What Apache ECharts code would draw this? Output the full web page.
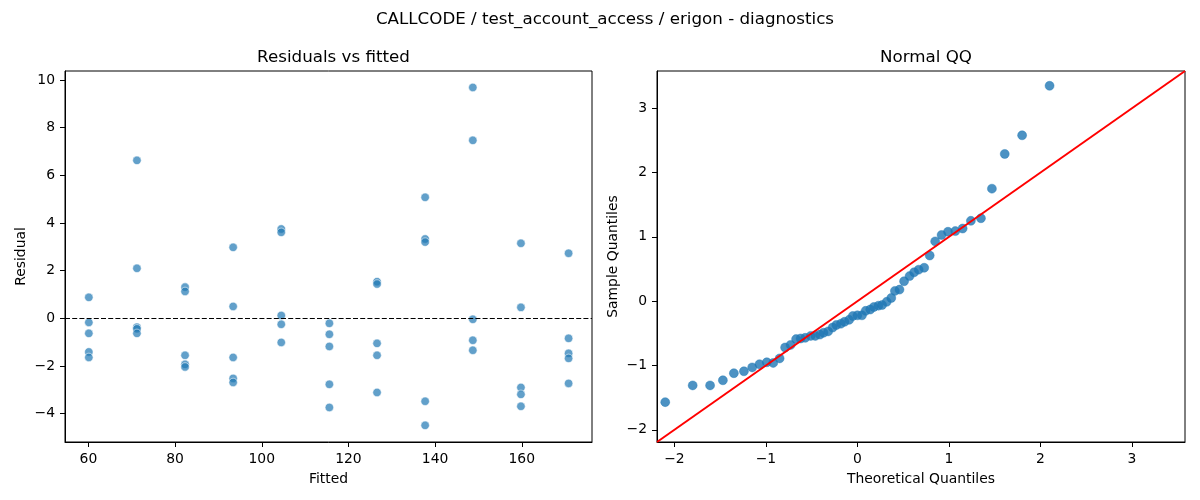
<!DOCTYPE html>
<html>
<head>
<meta charset="utf-8">
<script src="https://cdn.jsdelivr.net/npm/echarts@6/dist/echarts.min.js"></script>
<style>
html,body{margin:0;padding:0;background:#fff;}
#chart{width:1200px;height:500px;}
</style>
</head>
<body>
<div id="chart"></div>
<script>
// ---------- data ----------
const fittedLevels = [60.1, 71.2, 82.3, 93.4, 104.5, 115.6, 126.6, 137.7, 148.7, 159.8, 170.8];
const residualsByLevel = [
  [0.88, -0.17, -0.63, -1.41, -1.64],
  [6.63, 2.10, -0.37, -0.44, -0.63],
  [1.31, 1.13, -1.55, -1.93, -2.04],
  [2.98, 0.50, -1.64, -2.52, -2.69],
  [3.75, 3.61, 0.12, -0.25, -1.01],
  [-0.21, -0.67, -1.18, -2.77, -3.74],
  [1.54, 1.44, -1.05, -1.55, -3.11],
  [5.08, 3.33, 3.20, -3.48, -4.49],
  [9.69, 7.47, -0.04, -0.92, -1.34],
  [3.15, 0.46, -2.90, -3.19, -3.69],
  [2.73, -0.84, -1.47, -1.68, -2.73]
];
const theoreticalQ = [
  -2.10, -1.80, -1.61, -1.47, -1.35, -1.24, -1.15, -1.07, -0.99, -0.92,
  -0.85, -0.79, -0.73, -0.67, -0.62, -0.57, -0.51, -0.46, -0.41, -0.37,
  -0.32, -0.27, -0.23, -0.18, -0.14, -0.09, -0.05, 0.00, 0.05, 0.09,
  0.14, 0.18, 0.23, 0.27, 0.32, 0.37, 0.41, 0.46, 0.51, 0.57,
  0.62, 0.67, 0.73, 0.79, 0.85, 0.92, 0.99, 1.07, 1.15, 1.24,
  1.35, 1.47, 1.61, 1.80, 2.10
];
const sampleQ = [
  -1.57, -1.31, -1.31, -1.23, -1.12, -1.09, -1.03, -0.98, -0.95, -0.96,
  -0.89, -0.72, -0.68, -0.59, -0.58, -0.57, -0.54, -0.54, -0.52, -0.49,
  -0.47, -0.41, -0.37, -0.35, -0.32, -0.29, -0.23, -0.22, -0.22, -0.15,
  -0.13, -0.09, -0.07, -0.06, -0.01, 0.05, 0.16, 0.18, 0.31, 0.39,
  0.45, 0.49, 0.52, 0.71, 0.93, 1.03, 1.08, 1.09, 1.13, 1.25,
  1.29, 1.75, 2.29, 2.58, 3.35
];
const qqLine = [-2.19, 3.58];
const residXTicks = [60, 80, 100, 120, 140, 160];
const residYTicks = [-4, -2, 0, 2, 4, 6, 8, 10];
const qqXTicks = [-2, -1, 0, 1, 2, 3];
const qqYTicks = [-2, -1, 0, 1, 2, 3];
const residXRange = [54.6, 176.2];
const residYRange = [-5.19, 10.38];
const qqRange = [-2.19, 3.58];

// ---------- build ----------
const residPoints = [];
fittedLevels.forEach((f, i) => residualsByLevel[i].forEach(r => residPoints.push([f, r])));
const qqPoints = theoreticalQ.map((t, i) => [t, sampleQ[i]]);

const FONT = 'DejaVu Sans';
const fmt = v => String(v).replace('-', '\u2212');

function axis(gridIndex, range, ticks, extra) {
  return Object.assign({
    type: 'value', gridIndex: gridIndex, min: range[0], max: range[1],
    axisLine: { show: true, onZero: false, lineStyle: { color: '#000', width: 1 } },
    axisTick: { show: true, inside: false, length: 5, customValues: ticks, lineStyle: { color: '#000', width: 1 } },
    axisLabel: { customValues: ticks, formatter: fmt, color: '#000', fontFamily: FONT, fontSize: 13.9, margin: 10 },
    splitLine: { show: false },
    nameLocation: 'middle',
    nameTextStyle: { color: '#000', fontFamily: FONT, fontSize: 13.9 }
  }, extra);
}

const chart = echarts.init(document.getElementById('chart'), null, { renderer: 'canvas' });
chart.setOption({
  animation: false,
  backgroundColor: '#fff',
  title: [
    { text: 'CALLCODE / test_account_access / erigon - diagnostics', left: 600, top: 6, textAlign: 'center',
      textStyle: { fontFamily: FONT, fontSize: 16.7, fontWeight: 'normal', color: '#000' } },
    { text: 'Residuals vs fitted', left: 328.5, top: 44, textAlign: 'center',
      textStyle: { fontFamily: FONT, fontSize: 16.7, fontWeight: 'normal', color: '#000' } },
    { text: 'Normal QQ', left: 921, top: 44, textAlign: 'center',
      textStyle: { fontFamily: FONT, fontSize: 16.7, fontWeight: 'normal', color: '#000' } }
  ],
  grid: [
    { left: 65, top: 71, width: 527, height: 371, show: true, borderColor: '#000', borderWidth: 1, backgroundColor: 'transparent' },
    { left: 657, top: 71, width: 528, height: 371, show: true, borderColor: '#000', borderWidth: 1, backgroundColor: 'transparent' }
  ],
  xAxis: [
    axis(0, residXRange, residXTicks, { name: 'Fitted', nameGap: 30 }),
    axis(1, qqRange, qqXTicks, { name: 'Theoretical Quantiles', nameGap: 30 })
  ],
  yAxis: [
    axis(0, residYRange, residYTicks, { name: 'Residual', nameGap: 37 }),
    axis(1, qqRange, qqYTicks, { name: 'Sample Quantiles', nameGap: 37 })
  ],
  series: [
    {
      type: 'scatter', xAxisIndex: 0, yAxisIndex: 0, data: residPoints,
      symbolSize: 8.5,
      itemStyle: { color: '#1f77b4', opacity: 0.7, borderColor: '#fff', borderWidth: 0.8 },
      markLine: {
        silent: true, symbol: 'none', label: { show: false },
        lineStyle: { color: '#000', width: 1.2, type: [5, 2.2] },
        data: [{ yAxis: 0 }]
      },
      z: 2
    },
    {
      type: 'scatter', xAxisIndex: 1, yAxisIndex: 1, data: qqPoints,
      symbolSize: 9,
      itemStyle: { color: '#1f77b4', borderColor: '#1f77b4', borderWidth: 0.5 },
      z: 2
    },
    {
      type: 'line', xAxisIndex: 1, yAxisIndex: 1,
      data: [[qqLine[0], qqLine[0]], [qqLine[1], qqLine[1]]],
      symbol: 'none', lineStyle: { color: '#ff0000', width: 2 }, z: 3
    }
  ]
});
</script>
</body>
</html>
